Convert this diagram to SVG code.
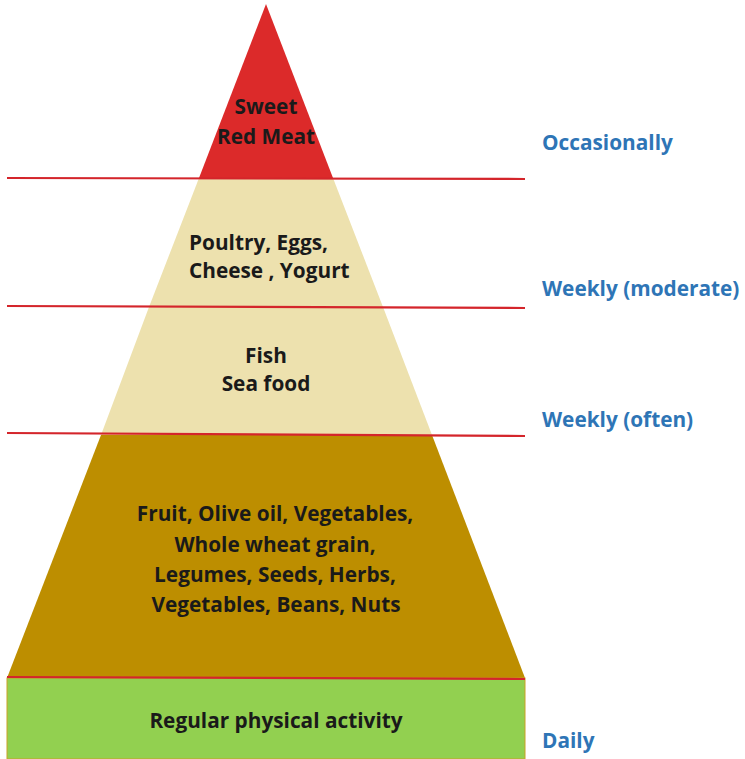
<svg xmlns="http://www.w3.org/2000/svg" width="745" height="759" viewBox="0 0 745 759">
<style>
.lbl{font-family:"Open Sans","Liberation Sans",sans-serif;font-weight:bold;font-size:20.8px;fill:#1a1a1a;text-anchor:middle}
.lft{text-anchor:start}
.freq{font-family:"Open Sans","Liberation Sans",sans-serif;font-weight:bold;font-size:20.8px;fill:#2e75b6}
.sep{stroke:#d4252b;stroke-width:2.2;fill:none}
</style>
<rect width="745" height="759" fill="#ffffff"/>
<g id="tier-top">
<polygon points="266,4 333,178 199,178" fill="#dc2a2a"/>
<text class="lbl" x="266" y="114">Sweet</text>
<text class="lbl" x="266" y="144">Red Meat</text>
</g>
<g id="tier-poultry">
<polygon points="199,178 333,178 383,307 149,307" fill="#ede1ae"/>
<text class="lbl lft" x="189" y="250">Poultry, Eggs,</text>
<text class="lbl lft" x="189" y="278">Cheese , Yogurt</text>
</g>
<g id="tier-fish">
<polygon points="149,307 383,307 432,435 101,435" fill="#ede1ae"/>
<text class="lbl" x="266" y="363">Fish</text>
<text class="lbl" x="266" y="391">Sea food</text>
</g>
<g id="tier-plants">
<polygon points="101,435 432,435 525,678 7,678" fill="#bd8e00"/>
<text class="lbl" x="275" y="521">Fruit, Olive oil, Vegetables,</text>
<text class="lbl" x="275" y="552">Whole wheat grain,</text>
<text class="lbl" x="275" y="582">Legumes, Seeds, Herbs,</text>
<text class="lbl" x="276" y="612">Vegetables, Beans, Nuts</text>
</g>
<g id="tier-activity">
<rect x="7" y="678" width="518" height="81" fill="#92d050" stroke="#c9a227" stroke-width="1"/>
<text class="lbl" x="276" y="728">Regular physical activity</text>
</g>
<g id="connectors">
<line class="sep" x1="7" y1="178" x2="525" y2="179"/>
<line class="sep" x1="7" y1="306" x2="525" y2="308"/>
<line class="sep" x1="7" y1="433" x2="525" y2="436"/>
<line class="sep" x1="7" y1="677" x2="525" y2="679"/>
</g>
<g id="frequency">
<text class="freq" x="542" y="150">Occasionally</text>
<text class="freq" x="542" y="296">Weekly (moderate)</text>
<text class="freq" x="542" y="427">Weekly (often)</text>
<text class="freq" x="542" y="748">Daily</text>
</g>
</svg>
